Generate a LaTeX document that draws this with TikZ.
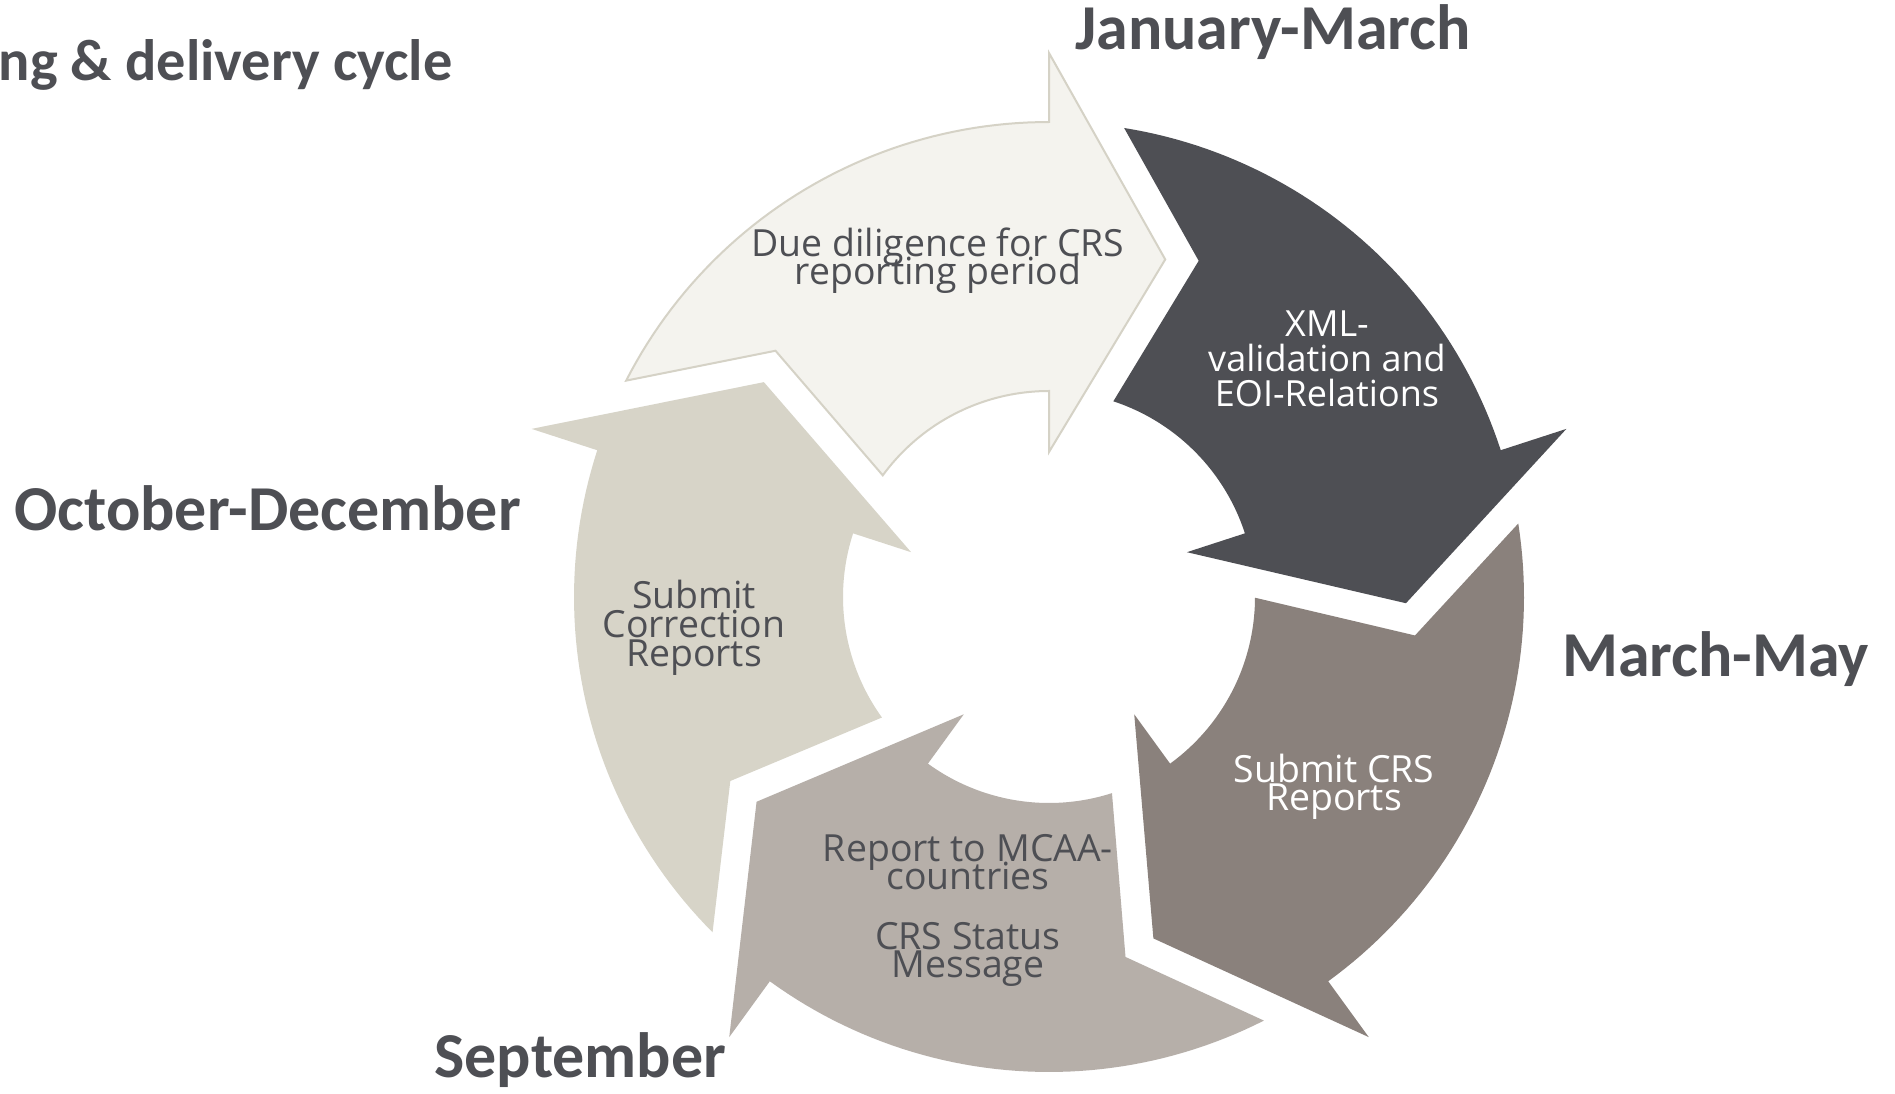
\documentclass[tikz,border=0pt]{standalone}
\usepackage{fontspec}
\setmainfont{Open Sans}
\newfontfamily\carlito{Carlito}
\definecolor{txt}{HTML}{4E4F54}
\definecolor{cA}{HTML}{F4F3EE}
\definecolor{cAb}{HTML}{D5D2C6}
\definecolor{cB}{HTML}{4E4F54}
\definecolor{cC}{HTML}{8A817C}
\definecolor{cD}{HTML}{B6AFA9}
\definecolor{cE}{HTML}{D7D4C8}
\newcommand\cyclepath[1]{%
  plot[domain=#1+62.9:#1, samples=50] (\x:475) -- (#1:544) -- (#1-19:357) -- (#1:145) -- (#1:206)
  -- plot[domain=#1:#1+53.8, samples=40] (\x:206) -- (#1+48:368) -- cycle}
\newcommand\tightfont[2]{\fontsize{#1}{#2}\selectfont\lineskiplimit=-30pt\lineskip=0pt}
\tikzset{
  month/.style={inner sep=0pt, font=\carlito\bfseries\fontsize{32}{32}\selectfont, text=txt},
  steptext/.style={inner sep=0pt, align=center, font=\tightfont{18.7}{14}, text=txt},
}
\begin{document}
\begin{tikzpicture}[x=0.5pt,y=0.5pt]
\useasboundingbox (0,0) rectangle (1895,1093);
\fill[white] (0,0) rectangle (1895,1093);
\begin{scope}[shift={(1049,496)}]
  \filldraw[fill=cA, draw=cAb, line width=1pt, line join=miter] \cyclepath{90};
  \fill[cB] \cyclepath{18};
  \fill[cC] \cyclepath{-54};
  \fill[cD] \cyclepath{-126};
  \fill[cE] \cyclepath{-198};
\end{scope}
\node[steptext, anchor=base] (t1) at (938,808) {Due diligence for CRS\\reporting period};
\node[steptext, anchor=base, text=white, font=\tightfont{18}{17.5}] (t2) at (1327,686) {XML-\\validation and\\EOI-Relations};
\node[steptext, anchor=base, text=white] (t3) at (1334,283) {Submit CRS\\Reports};
\node[steptext, anchor=base] (t4) at (968,116) {Report to MCAA-\\countries\\[16pt]CRS Status\\Message};
\node[steptext, anchor=base, font=\tightfont{18.7}{14.7}] (t5) at (694,426) {Submit\\Correction\\Reports};
\node[month, anchor=base east, font=\carlito\bfseries\fontsize{29.2}{29.2}\selectfont] (title) at (453,1012) {ng \& delivery cycle};
\node[month, anchor=base west] (jan) at (1075,1043) {January-March};
\node[month, anchor=base west] (mar) at (1562,416) {March-May};
\node[month, anchor=base west] (sep) at (434,16) {September};
\node[month, anchor=base west] (oct) at (14,562) {October-December};
\end{tikzpicture}
\end{document}
